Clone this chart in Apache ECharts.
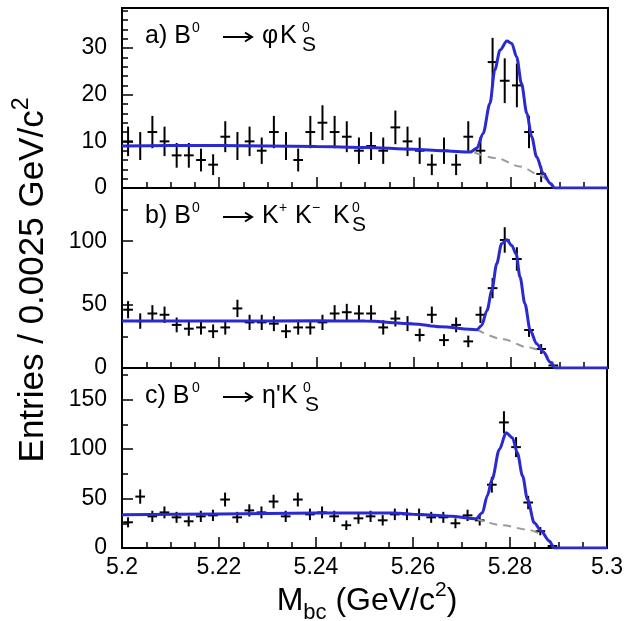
<!DOCTYPE html>
<html>
<head>
<meta charset="utf-8">
<title>Mbc distributions</title>
<script src="https://cdn.jsdelivr.net/npm/echarts@6.0.0/dist/echarts.min.js"></script>
<style>
  html, body { margin: 0; padding: 0; background: #fff; }
  #chart { width: 626px; height: 621px; }
</style>
</head>
<body>
<div id="chart"></div>
<script>
// histogram binning (GeV/c^2)
var binStart = 5.2
var binWidth = 0.0025

// entries per bin (40 bins)
var countsA = [10, 9, 12, 10, 7, 7, 6, 5, 11, 9, 10, 8, 12, 9, 6, 12, 14, 12, 11, 8,
  9, 8, 13, 10, 8, 5, 8, 5, 11, 8, 27, 23, 22, 12, 3, 0, 0, 0, 0, 0]
var countsB = [46, 37, 43, 42, 34, 31, 32, 29, 32, 47, 36, 36, 35, 29, 32, 32, 36, 43, 44, 43,
  43, 32, 39, 35, 26, 42, 22, 34, 21, 42, 63, 101, 86, 30, 15, 2, 0, 0, 0, 0]
var countsC = [26, 52, 32, 36, 31, 27, 32, 33, 49, 31, 38, 36, 47, 32, 49, 34, 36, 32, 23, 30,
  32, 28, 34, 34, 34, 31, 31, 25, 33, 28, 64, 127, 102, 46, 17, 2, 0, 0, 0, 0]

// fit curve (signal + background), [Mbc, entries]
var fitA = [[5.2, 9.0], [5.21, 9.1], [5.22, 9.1], [5.23, 9.0], [5.24, 8.9], [5.25, 8.7], [5.26, 8.3],
  [5.266, 8.0], [5.2716, 7.7], [5.273, 8.5], [5.2743, 11.7], [5.2757, 18.1], [5.2767, 25.3],
  [5.2778, 29.6], [5.2792, 31.5], [5.2802, 31.0], [5.2812, 28.1], [5.2822, 22.4], [5.2833, 16.0],
  [5.2843, 11.0], [5.2853, 6.7], [5.2867, 3.1], [5.2881, 1.0], [5.289, 0], [5.3, 0]]
var fitB = [[5.2, 37.0], [5.22, 37.0], [5.24, 37.2], [5.25, 37.0], [5.26, 34.8], [5.2654, 32.5],
  [5.273, 30.2], [5.274, 33.6], [5.2751, 45.4], [5.2761, 61.2], [5.2771, 82.2], [5.2781, 98],
  [5.2792, 101.1], [5.2802, 96.6], [5.2811, 90], [5.2819, 71.7], [5.2829, 50.7], [5.284, 29.7],
  [5.2853, 19.2], [5.2867, 12.6], [5.2881, 4.7], [5.2891, 0], [5.3, 0]]
var fitC = [[5.2, 33.5], [5.22, 34.5], [5.24, 35.3], [5.2557, 35.5], [5.2625, 33.5], [5.2678, 32.0],
  [5.273, 29.6], [5.2743, 35.7], [5.2753, 52.5], [5.2763, 69.4], [5.2778, 99.7], [5.2792, 116.5],
  [5.2805, 111.4], [5.2815, 96.3], [5.2826, 72.7], [5.2836, 49.2], [5.285, 25.6], [5.2864, 17.2],
  [5.2881, 7.0], [5.2891, 0], [5.3, 0]]

// background component only (dashed)
var bkgA = [[5.2725, 7.6], [5.2771, 6.4], [5.2819, 4.6], [5.286, 2.8], [5.2882, 1.2], [5.289, 0]]
var bkgB = [[5.273, 30.2], [5.2785, 22.6], [5.2833, 16.5], [5.2864, 13.9], [5.2884, 6], [5.289, 0]]
var bkgC = [[5.273, 29.6], [5.2785, 22.9], [5.284, 18.2], [5.2867, 13.8], [5.2885, 6], [5.289, 0]]

// axis ticks
var xTicks = [5.2, 5.22, 5.24, 5.26, 5.28, 5.3]
var xMinorTicks = [5.205, 5.21, 5.215, 5.225, 5.23, 5.235, 5.245, 5.25, 5.255,
  5.265, 5.27, 5.275, 5.285, 5.29, 5.295]
var yTicksA = [0, 10, 20, 30]
var yMinorA = [2, 4, 6, 8, 12, 14, 16, 18, 22, 24, 26, 28, 32, 34, 36, 38]
var yTicksB = [0, 50, 100]
var yMinorB = [25, 75, 125]
var yTicksC = [0, 50, 100, 150]
var yMinorC = [25, 75, 125, 175]
var yMax = [38.6, 142, 182]

var FONT = '"Liberation Sans", Arial, Helvetica, sans-serif'
var BLUE = '#2a2ad0'
var barHalf = 0.001

var panels = [
  { counts: countsA, fit: fitA, bkg: bkgA, ticks: yTicksA, minor: yMinorA, max: yMax[0] },
  { counts: countsB, fit: fitB, bkg: bkgB, ticks: yTicksB, minor: yMinorB, max: yMax[1] },
  { counts: countsC, fit: fitC, bkg: bkgC, ticks: yTicksC, minor: yMinorC, max: yMax[2] }
]
var panelTop = [8, 188, 368]

function crossData (counts) {
  var out = []
  counts.forEach(function (n, i) {
    if (n > 0) out.push([binStart + (i + 0.5) * binWidth, n, Math.sqrt(n)])
  })
  return out
}

function renderCross (params, api) {
  var x = api.value(0)
  var n = api.value(1)
  var err = api.value(2)
  var top = api.coord([x, n + err])
  var bot = api.coord([x, Math.max(n - err, 0)])
  var left = api.coord([x - barHalf, n])
  var right = api.coord([x + barHalf, n])
  var style = { stroke: '#000', lineWidth: 2 }
  return {
    type: 'group',
    children: [
      { type: 'line', shape: { x1: top[0], y1: top[1], x2: bot[0], y2: bot[1] }, style: style },
      { type: 'line', shape: { x1: left[0], y1: left[1], x2: right[0], y2: right[1] }, style: style }
    ]
  }
}

// text made of pieces (super/subscripts), baseline at y0
var measureCtx = document.createElement('canvas').getContext('2d')
function pieceTexts (x0, y0, pieces, baseSize, autoAdvance) {
  var out = []
  var cursor = 0
  var lastStart = 0
  pieces.forEach(function (p) {
    var size = p.size || baseSize
    var px
    if (autoAdvance) {
      px = p.stack ? lastStart : cursor
      measureCtx.font = size + 'px ' + FONT
      var w = measureCtx.measureText(p.t).width
      if (!p.stack) { lastStart = cursor; cursor += w }
    } else {
      px = p.dx
    }
    out.push({ t: p.t, size: size, x: x0 + px, y: y0 + (p.dy || 0), arrow: p.arrow })
  })
  if (autoAdvance) {
    out.forEach(function (o) { o.x -= cursor / 2 })
  }
  return out.map(function (o) {
    if (o.arrow) {
      // reaction arrow drawn as a thin line with a small head
      var ay = o.y - 8
      var ax2 = o.x + o.arrow
      return {
        type: 'group', silent: true,
        children: [
          { type: 'line', shape: { x1: o.x, y1: ay, x2: ax2 - 1, y2: ay }, style: { stroke: '#000', lineWidth: 2 } },
          { type: 'polyline', shape: { points: [[ax2 - 7, ay - 4.5], [ax2, ay], [ax2 - 7, ay + 4.5]] }, style: { stroke: '#000', lineWidth: 2, fill: null } }
        ]
      }
    }
    return {
      type: 'text',
      x: o.x,
      y: o.y - 0.35 * o.size,
      silent: true,
      style: { text: o.t, font: o.size + 'px ' + FONT, fill: '#000', align: 'left', verticalAlign: 'middle' }
    }
  })
}

var labelA = [
  { t: 'a) B', dx: 0 }, { t: '0', dx: 47, dy: -12, size: 14 }, { t: '', dx: 78, arrow: 29 },
  { t: '\u03c6', dx: 117 }, { t: 'K', dx: 135 }, { t: '0', dx: 157, dy: -12, size: 14 },
  { t: 'S', dx: 157, dy: 8, size: 21 }
]
var labelB = [
  { t: 'b) B', dx: 0 }, { t: '0', dx: 47, dy: -12, size: 14 }, { t: '', dx: 78, arrow: 29 },
  { t: 'K', dx: 117 }, { t: '+', dx: 134, dy: -12, size: 14 }, { t: 'K', dx: 150 },
  { t: '\u2212', dx: 167, dy: -12, size: 14 }, { t: 'K', dx: 188 },
  { t: '0', dx: 207, dy: -12, size: 14 }, { t: 'S', dx: 207, dy: 8, size: 21 }
]
var labelC = [
  { t: 'c) B', dx: 0 }, { t: '0', dx: 47, dy: -12, size: 14 }, { t: '', dx: 78, arrow: 29 },
  { t: '\u03b7', dx: 117 }, { t: '\'', dx: 131 }, { t: 'K', dx: 136 },
  { t: '0', dx: 158, dy: -12, size: 14 }, { t: 'S', dx: 160, dy: 8, size: 21 }
]
var xTitle = [
  { t: 'M' }, { t: 'bc', size: 22, dy: 9 }, { t: ' (GeV/c' }, { t: '2', size: 21, dy: -14 }, { t: ')' }
]
var yTitle = [
  { t: 'Entries / 0.0025 GeV/c' }, { t: '2', size: 23, dy: -16 }
]

var grids = []
var xAxes = []
var yAxes = []
var series = []

panels.forEach(function (p, i) {
  grids.push({ left: 122, width: 486, top: panelTop[i], height: 180, show: true, borderColor: '#000', borderWidth: 2 })
  // major + minor x ticks
  xAxes.push({
    type: 'value', gridIndex: i, min: 5.2, max: 5.3, position: 'bottom',
    axisLine: { show: false }, splitLine: { show: false },
    axisTick: { inside: true, length: 11, customValues: xTicks, lineStyle: { color: '#000', width: 1.5 } },
    axisLabel: {
      show: i === 2, customValues: xTicks, margin: 8, color: '#000', fontSize: 23, fontFamily: FONT,
      formatter: function (v) { return String(Math.round(v * 100) / 100) }
    }
  })
  xAxes.push({
    type: 'value', gridIndex: i, min: 5.2, max: 5.3, position: 'bottom',
    axisLine: { show: false }, splitLine: { show: false }, axisLabel: { show: false },
    axisTick: { inside: true, length: 6, customValues: xMinorTicks, lineStyle: { color: '#000', width: 1.5 } }
  })
  yAxes.push({
    type: 'value', gridIndex: i, min: 0, max: p.max, position: 'left',
    axisLine: { show: false }, splitLine: { show: false },
    axisTick: { inside: true, length: 11, customValues: p.ticks, lineStyle: { color: '#000', width: 1.5 } },
    axisLabel: { customValues: p.ticks, margin: 15, color: '#000', fontSize: 23, fontFamily: FONT }
  })
  yAxes.push({
    type: 'value', gridIndex: i, min: 0, max: p.max, position: 'left',
    axisLine: { show: false }, splitLine: { show: false }, axisLabel: { show: false },
    axisTick: { inside: true, length: 6, customValues: p.minor, lineStyle: { color: '#000', width: 1.5 } }
  })

  series.push({
    type: 'custom', xAxisIndex: 2 * i, yAxisIndex: 2 * i, clip: true, z: 2,
    data: crossData(p.counts), encode: { x: 0, y: 1 }, renderItem: renderCross
  })
  series.push({
    type: 'line', xAxisIndex: 2 * i, yAxisIndex: 2 * i, data: p.bkg, symbol: 'none', z: 3,
    smooth: 0.3, smoothMonotone: 'x', lineStyle: { color: '#9a9a9a', width: 2, type: [8, 6] }
  })
  series.push({
    type: 'line', xAxisIndex: 2 * i, yAxisIndex: 2 * i, data: p.fit, symbol: 'none', z: 4,
    smooth: 0.3, smoothMonotone: 'x', lineStyle: { color: BLUE, width: 3 }
  })
})

var graphics = []
  .concat(pieceTexts(145, 45, labelA, 25, false))
  .concat(pieceTexts(145, 225, labelB, 25, false))
  .concat(pieceTexts(145, 405, labelC, 25, false))
  .concat(pieceTexts(367, 612, xTitle, 32, true))

graphics.push({
  type: 'group', x: 46, y: 280, rotation: Math.PI / 2,
  children: pieceTexts(0, 0, yTitle, 35, true)
})

var myChart = echarts.init(document.getElementById('chart'))
var option = {
  animation: false,
  backgroundColor: '#fff',
  grid: grids,
  xAxis: xAxes,
  yAxis: yAxes,
  series: series,
  graphic: graphics
}
myChart.setOption(option)
</script>
</body>
</html>
